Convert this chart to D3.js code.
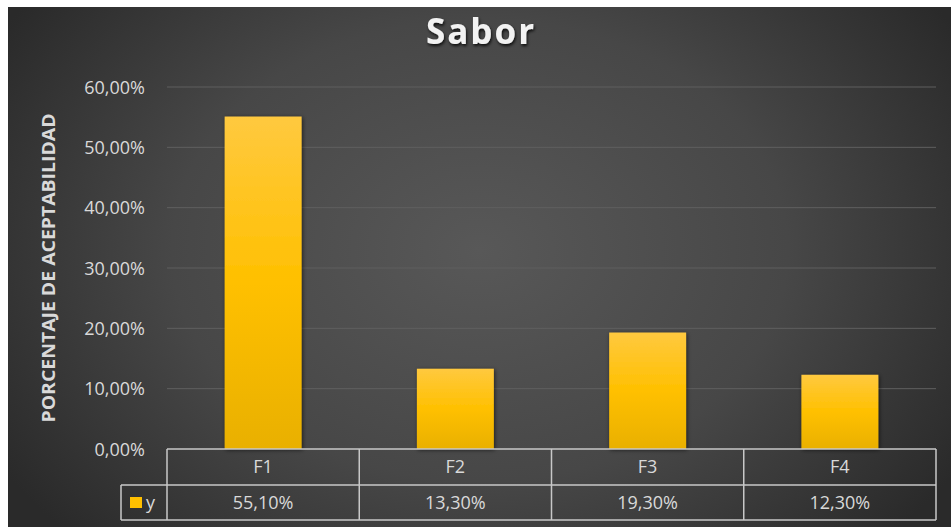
<!DOCTYPE html>
<html>
<head>
<meta charset="utf-8">
<script src="https://cdn.jsdelivr.net/npm/d3@7"></script>
<style>
  html,body{margin:0;padding:0;background:#fff;}
  svg{display:block;}
  text{font-family:"Open Sans","DejaVu Sans",sans-serif;}
</style>
</head>
<body>
<svg id="chart" width="951" height="527"></svg>
<script>
'use strict';

// data
var categories=['F1','F2','F3','F4'];
var values=[55.1,13.3,19.3,12.3];
var seriesName='y';
var yTicks=[0,10,20,30,40,50,60];

var fmt=function(v){return d3.format('.2f')(v).replace('.',',')+'%';};

var W=951,H=527
  , bg={x:8,y:7}
  , m={left:167,right:936,top:87,bottom:449}
  , rowH=36

var svg=d3.select('#chart');
var defs=svg.append('defs');

var rg=defs.append('radialGradient')
    .attr('id','bg')
    .attr('gradientUnits','userSpaceOnUse')
    .attr('cx',480).attr('cy',250).attr('r',560)
    .attr('gradientTransform','translate(480,250) scale(1,0.75) translate(-480,-250)');
rg.append('stop').attr('offset','0%').attr('stop-color','#585858');
rg.append('stop').attr('offset','55%').attr('stop-color','#474747');
rg.append('stop').attr('offset','100%').attr('stop-color','#2a2a2a');

var lg=defs.append('linearGradient')
    .attr('id','bar').attr('x1',0).attr('y1',0).attr('x2',0).attr('y2',1);
lg.append('stop').attr('offset','0%').attr('stop-color','#ffc93f');
lg.append('stop').attr('offset','50%').attr('stop-color','#ffc000');
lg.append('stop').attr('offset','100%').attr('stop-color','#e9b000');

var sh=defs.append('filter').attr('id','shadow')
    .attr('x','-20%').attr('y','-20%').attr('width','140%').attr('height','140%');
sh.append('feDropShadow').attr('dx',1).attr('dy',1).attr('stdDeviation',2)
    .attr('flood-color','#000').attr('flood-opacity',0.6);

var ts=defs.append('filter').attr('id','tshadow')
    .attr('x','-20%').attr('y','-20%').attr('width','140%').attr('height','140%');
ts.append('feDropShadow').attr('dx',1).attr('dy',2).attr('stdDeviation',1.5)
    .attr('flood-color','#000').attr('flood-opacity',0.8);

svg.append('rect')
    .attr('x',bg.x).attr('y',bg.y)
    .attr('width',W-bg.x).attr('height',H-bg.y)
    .attr('fill','url(#bg)');

var x=d3.scaleBand()
    .domain(categories)
    .range([m.left,m.right])
    .paddingInner(0.6).paddingOuter(0.3);
var cell=d3.scaleBand().domain(categories).range([m.left,m.right]);

var y=d3.scaleLinear().domain([0,60]).range([m.bottom,m.top]);

// gridlines
svg.append('g')
    .selectAll('line')
    .data(yTicks.slice(1))
    .join('line')
    .attr('x1',m.left).attr('x2',m.right)
    .attr('y1',function(d){return y(d);})
    .attr('y2',function(d){return y(d);})
    .attr('stroke','#5f5f5f').attr('stroke-width',1);

// y axis
var yAxis=svg.append('g')
    .attr('transform','translate(145,0)')
    .call(d3.axisLeft(y).tickValues(yTicks).tickSize(0).tickPadding(0).tickFormat(fmt));
yAxis.select('.domain').remove();
yAxis.selectAll('text')
    .attr('fill','#d9d9d9')
    .style('font-size','18px')
    .attr('dy','0.35em');

svg.append('text')
    .attr('transform','translate(55,268) rotate(-90)')
    .attr('text-anchor','middle')
    .attr('fill','#d9d9d9')
    .attr('textLength',309)
    .attr('lengthAdjust','spacingAndGlyphs')
    .style('font-size','18px')
    .style('font-weight','bold')
    .text('PORCENTAJE DE ACEPTABILIDAD');

// bars
svg.append('g')
    .selectAll('rect')
    .data(values)
    .join('rect')
    .attr('x',function(d,i){return x(categories[i]);})
    .attr('width',x.bandwidth())
    .attr('y',function(d){return y(d);})
    .attr('height',function(d){return y(0)-y(d);})
    .attr('fill','url(#bar)')
    .attr('filter','url(#shadow)');

// data table
var tbl=svg.append('g').attr('stroke','#c8c8c8').attr('stroke-width',1.5).attr('fill','none');
var r0=m.bottom, r1=m.bottom+rowH, r2=m.bottom+2*rowH-1, lx=121;
tbl.append('line').attr('x1',m.left).attr('x2',m.right).attr('y1',r0).attr('y2',r0);
tbl.append('line').attr('x1',lx).attr('x2',m.right).attr('y1',r1).attr('y2',r1);
tbl.append('line').attr('x1',lx).attr('x2',m.right).attr('y1',r2).attr('y2',r2);
tbl.append('line').attr('x1',lx).attr('x2',lx).attr('y1',r1).attr('y2',r2);
tbl.selectAll('line.v')
    .data(categories.concat(['end']))
    .join('line')
    .attr('class','v')
    .attr('x1',function(d){return d=='end'?m.right:cell(d);})
    .attr('x2',function(d){return d=='end'?m.right:cell(d);})
    .attr('y1',r0).attr('y2',r2);

svg.append('g')
    .selectAll('text')
    .data(categories)
    .join('text')
    .attr('x',function(d){return cell(d)+cell.bandwidth()/2;})
    .attr('y',(r0+r1)/2)
    .attr('dy','0.35em')
    .attr('text-anchor','middle')
    .attr('fill','#d9d9d9')
    .style('font-size','18px')
    .text(function(d){return d;});

svg.append('g')
    .selectAll('text')
    .data(values)
    .join('text')
    .attr('x',function(d,i){return cell(categories[i])+cell.bandwidth()/2;})
    .attr('y',(r1+r2)/2)
    .attr('dy','0.35em')
    .attr('text-anchor','middle')
    .attr('fill','#d9d9d9')
    .style('font-size','18px')
    .text(function(d){return d.toFixed(2).replace('.',',')+'%';});

svg.append('rect')
    .attr('x',130).attr('y',(r1+r2)/2-5.5)
    .attr('width',12).attr('height',11)
    .attr('fill','#ffc000');
svg.append('text')
    .attr('x',146).attr('y',(r1+r2)/2)
    .attr('dy','0.35em')
    .attr('fill','#d9d9d9')
    .style('font-size','18px')
    .text(seriesName);

// title
svg.append('text')
    .attr('x',481).attr('y',44)
    .attr('text-anchor','middle')
    .attr('fill','#f2f2f2')
    .attr('filter','url(#tshadow)')
    .style('font-size','35px')
    .style('font-weight','bold')
    .style('letter-spacing','2px')
    .text('Sabor');
</script>
</body>
</html>
